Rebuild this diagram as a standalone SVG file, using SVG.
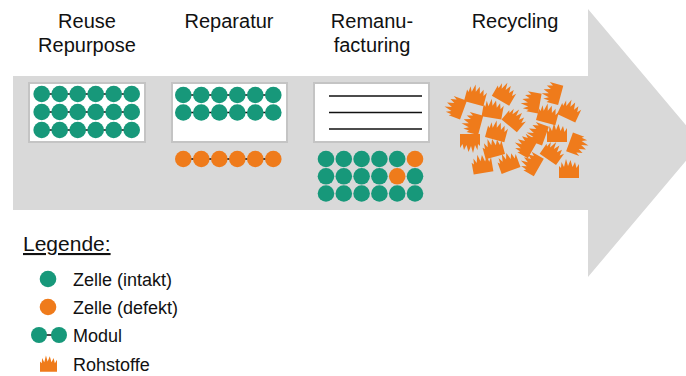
<svg xmlns="http://www.w3.org/2000/svg" xmlns:xlink="http://www.w3.org/1999/xlink" width="686" height="376" viewBox="0 0 686 376">
<style>
text{font-family:"Liberation Sans",Arial,sans-serif;fill:#111}
.h{font-size:20px;text-anchor:middle}
.l{font-size:18px}
.t{fill:#17987a}
.o{fill:#ef7b1b}
.box{fill:#fff;stroke:#c4c4c4;stroke-width:2}
.ln{stroke:#111;stroke-width:1.5}
.r{fill:#ef7b1b}
</style>
<defs>
<path id="fl" d="M-10,9 L-10,-3 L-8,-1 L-7.5,-7 L-5,-2 L-3,-10 L-1,-3 L1.5,-9 L3.5,-2 L6,-7 L7.5,-1 L10,-5 L10,9 Z"/>
<g id="row6"><line class="ln" x1="0" y1="0" x2="90" y2="0"/><circle cx="0" cy="0" r="8.3"/><circle cx="18" cy="0" r="8.3"/><circle cx="36" cy="0" r="8.3"/><circle cx="54" cy="0" r="8.3"/><circle cx="72" cy="0" r="8.3"/><circle cx="90" cy="0" r="8.3"/></g>
</defs>
<rect width="686" height="376" fill="#fff"/>
<g id="arrow">
<path d="M13,76 L588,76 L588,9 L701,143 L588,277 L588,210 L13,210 Z" fill="#d9d9d9"/>
</g>
<g id="reuse">
<text class="h" x="87" y="28">Reuse</text>
<text class="h" x="87" y="52">Repurpose</text>
<rect class="box" x="29" y="83" width="116" height="59"/>
<use href="#row6" x="41.7" y="94" class="t"/>
<use href="#row6" x="41.7" y="112" class="t"/>
<use href="#row6" x="41.7" y="130" class="t"/>
</g>
<g id="reparatur">
<text class="h" x="229" y="28">Reparatur</text>
<rect class="box" x="172" y="83" width="115" height="59"/>
<use href="#row6" x="183.3" y="95" class="t"/>
<use href="#row6" x="183.3" y="112.5" class="t"/>
<use href="#row6" x="183.3" y="159" class="o"/>
</g>
<g id="remanufacturing">
<text class="h" x="372" y="28">Remanu-</text>
<text class="h" x="372" y="52">facturing</text>
<rect class="box" x="314" y="83" width="115" height="59"/>
<line class="ln" x1="329" y1="96" x2="422" y2="96"/>
<line class="ln" x1="329" y1="112.5" x2="422" y2="112.5"/>
<line class="ln" x1="329" y1="129" x2="422" y2="129"/>
<g class="t">
<circle cx="326" cy="159" r="8.3"/><circle cx="343.8" cy="159" r="8.3"/><circle cx="361.6" cy="159" r="8.3"/><circle cx="379.4" cy="159" r="8.3"/><circle cx="397.2" cy="159" r="8.3"/>
<circle cx="326" cy="176.3" r="8.3"/><circle cx="343.8" cy="176.3" r="8.3"/><circle cx="361.6" cy="176.3" r="8.3"/><circle cx="379.4" cy="176.3" r="8.3"/><circle cx="415" cy="176.3" r="8.3"/>
<circle cx="326" cy="193.5" r="8.3"/><circle cx="343.8" cy="193.5" r="8.3"/><circle cx="361.6" cy="193.5" r="8.3"/><circle cx="379.4" cy="193.5" r="8.3"/><circle cx="397.2" cy="193.5" r="8.3"/><circle cx="415" cy="193.5" r="8.3"/>
</g>
<g class="o"><circle cx="415" cy="159" r="8.3"/><circle cx="397.2" cy="176.3" r="8.3"/></g>
</g>
<g id="recycling">
<text class="h" x="515" y="28">Recycling</text>
<g class="r">
<use href="#fl" transform="translate(455,107) rotate(-70)"/>
<use href="#fl" transform="translate(476,95) rotate(15)"/>
<use href="#fl" transform="translate(505,93) rotate(30)"/>
<use href="#fl" transform="translate(493,109) rotate(10)"/>
<use href="#fl" transform="translate(531,102) rotate(-80)"/>
<use href="#fl" transform="translate(552,93) rotate(-75)"/>
<use href="#fl" transform="translate(570,110) rotate(25)"/>
<use href="#fl" transform="translate(548,114) rotate(15)"/>
<use href="#fl" transform="translate(515,119) rotate(40)"/>
<use href="#fl" transform="translate(472,123) rotate(-75)"/>
<use href="#fl" transform="translate(497,131) rotate(15)"/>
<use href="#fl" transform="translate(537,133) rotate(-70)"/>
<use href="#fl" transform="translate(557,133) rotate(0)"/>
<use href="#fl" transform="translate(470,143) rotate(180)"/>
<use href="#fl" transform="translate(493,148) rotate(-15)"/>
<use href="#fl" transform="translate(525,145) rotate(-60)"/>
<use href="#fl" transform="translate(553,152) rotate(35)"/>
<use href="#fl" transform="translate(578,145) rotate(110)"/>
<use href="#fl" transform="translate(482,164) rotate(-10)"/>
<use href="#fl" transform="translate(508,162) rotate(-20)"/>
<use href="#fl" transform="translate(531,163) rotate(-60)"/>
<use href="#fl" transform="translate(569,169) rotate(0)"/>
</g>
</g>
<g id="legend">
<text x="23" y="251" style="font-size:21px;text-decoration:underline">Legende:</text>
<circle class="t" cx="48" cy="279" r="8.3"/>
<text class="l" x="73" y="286">Zelle (intakt)</text>
<circle class="o" cx="48" cy="307" r="8.3"/>
<text class="l" x="73" y="314">Zelle (defekt)</text>
<line class="ln" x1="39" y1="335" x2="59" y2="335"/>
<circle class="t" cx="39" cy="335" r="8"/>
<circle class="t" cx="59" cy="335" r="8"/>
<text class="l" x="73" y="342">Modul</text>
<use href="#fl" class="r" transform="translate(48.5,364) scale(0.85)"/>
<text class="l" x="73" y="371">Rohstoffe</text>
</g>
</svg>
